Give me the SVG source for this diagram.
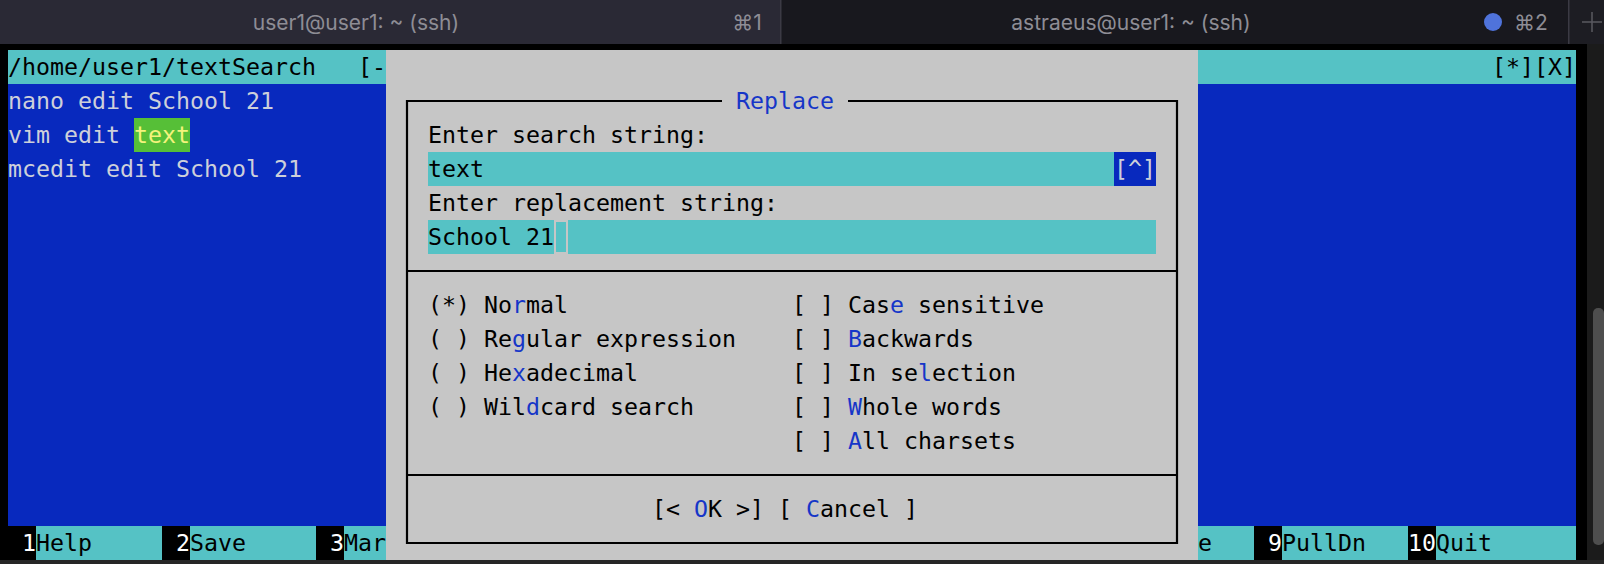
<svg xmlns="http://www.w3.org/2000/svg" width="1604" height="564" viewBox="0 0 1604 564">
<style>
.m{font-family:"DejaVu Sans Mono","Liberation Mono",monospace;font-size:23.25px}
.k{fill:#000}
.bl{fill:#1636c8}
.lt{fill:#cdd0da}
.cy{fill:#55c2c5}
.tab{font-family:Inter,"Noto Sans","DejaVu Sans",sans-serif;font-size:21px;fill:#8e8d95}
.fr{stroke:#000;stroke-width:2.2;fill:none}
</style>
<g id="window">
  <rect x="0" y="0" width="1604" height="564" fill="#000"/>
  <rect x="0" y="560" width="1604" height="4" fill="#262626"/>
  <rect x="1587" y="44" width="17" height="516" fill="#1b1b1b"/>
  <rect x="1593" y="308" width="11" height="237" rx="5" fill="#4e4e4e"/>
</g>
<g id="tabbar">
  <rect x="0" y="0" width="781" height="44" fill="#2a2935"/>
  <rect x="781" y="0" width="788" height="44" fill="#18181e"/>
  <rect x="1569" y="0" width="35" height="44" fill="#1d1d23"/>
  <rect x="780" y="0" width="1.5" height="44" fill="#3b3a44"/>
  <rect x="1568" y="0" width="1.5" height="44" fill="#3b3a44"/>
  <text class="tab" x="356" y="30" text-anchor="middle">user1@user1: ~ (ssh)</text>
  <text class="tab" x="747" y="30" text-anchor="middle">⌘1</text>
  <text class="tab" x="1131" y="30" text-anchor="middle">astraeus@user1: ~ (ssh)</text>
  <circle cx="1493" cy="22" r="9" fill="#4f73db"/>
  <text class="tab" x="1531" y="30" text-anchor="middle">⌘2</text>
  <path d="M1592 12v20M1582 22h20" stroke="#5a5960" stroke-width="1.5"/>
</g>
<g id="editor">
  <rect x="8" y="50" width="1568" height="34" class="cy"/>
  <rect x="8" y="84" width="1568" height="442" fill="#0829be"/>
  <text class="m k" x="8" y="75" xml:space="preserve">/home/user1/textSearch   [-</text>
  <text class="m k" x="1492" y="75">[*][X]</text>
  <text class="m lt" x="8" y="109" xml:space="preserve">nano edit School 21</text>
  <rect x="134" y="118" width="56" height="34" fill="#56bf37"/>
  <text class="m lt" x="8" y="143" xml:space="preserve">vim edit <tspan fill="#f3f37c">text</tspan></text>
  <text class="m lt" x="8" y="177" xml:space="preserve">mcedit edit School 21</text>
</g>
<g id="buttonbar">
  <rect x="8" y="526" width="1568" height="34" class="cy"/>
  <rect x="8" y="526" width="28" height="34" fill="#000"/>
  <rect x="162" y="526" width="28" height="34" fill="#000"/>
  <rect x="316" y="526" width="28" height="34" fill="#000"/>
  <rect x="1254" y="526" width="28" height="34" fill="#000"/>
  <rect x="1408" y="526" width="28" height="34" fill="#000"/>
  <text class="m" y="551" xml:space="preserve"><tspan x="22" fill="#fff">1</tspan><tspan class="k">Help</tspan><tspan x="176" fill="#fff">2</tspan><tspan class="k">Save</tspan><tspan x="330" fill="#fff">3</tspan><tspan class="k">Mar</tspan><tspan x="1198" class="k">e</tspan><tspan x="1268" fill="#fff">9</tspan><tspan class="k">PullDn</tspan><tspan x="1408" fill="#fff">10</tspan><tspan class="k">Quit</tspan></text>
</g>
<g id="dialog">
  <rect x="386" y="50" width="812" height="510" fill="#c6c6c6"/>
  <path class="fr" d="M722 101H407V543H1177V101H848"/>
  <path class="fr" d="M407 271H1177M407 475H1177"/>
  <text class="m bl" x="736" y="109">Replace</text>
  <text class="m k" x="428" y="143">Enter search string:</text>
  <rect x="428" y="152" width="728" height="34" class="cy"/>
  <rect x="1114" y="152" width="42" height="34" fill="#0829be"/>
  <text class="m k" x="428" y="177">text</text>
  <text class="m lt" x="1114" y="177">[^]</text>
  <text class="m k" x="428" y="211">Enter replacement string:</text>
  <rect x="428" y="220" width="126" height="34" class="cy"/>
  <rect x="556" y="222" width="10" height="30" class="cy"/>
  <rect x="568" y="220" width="588" height="34" class="cy"/>
  <text class="m k" x="428" y="245" xml:space="preserve">School 21</text>
  <text class="m k" x="428" y="313" xml:space="preserve">(*) No<tspan class="bl">r</tspan>mal</text>
  <text class="m k" x="428" y="347" xml:space="preserve">( ) Re<tspan class="bl">g</tspan>ular expression</text>
  <text class="m k" x="428" y="381" xml:space="preserve">( ) He<tspan class="bl">x</tspan>adecimal</text>
  <text class="m k" x="428" y="415" xml:space="preserve">( ) Wil<tspan class="bl">d</tspan>card search</text>
  <text class="m k" x="792" y="313" xml:space="preserve">[ ] Cas<tspan class="bl">e</tspan> sensitive</text>
  <text class="m k" x="792" y="347" xml:space="preserve">[ ] <tspan class="bl">B</tspan>ackwards</text>
  <text class="m k" x="792" y="381" xml:space="preserve">[ ] In se<tspan class="bl">l</tspan>ection</text>
  <text class="m k" x="792" y="415" xml:space="preserve">[ ] <tspan class="bl">W</tspan>hole words</text>
  <text class="m k" x="792" y="449" xml:space="preserve">[ ] <tspan class="bl">A</tspan>ll charsets</text>
  <text class="m k" x="652" y="517" xml:space="preserve">[&lt; <tspan class="bl">O</tspan>K &gt;] [ <tspan class="bl">C</tspan>ancel ]</text>
</g>
</svg>
